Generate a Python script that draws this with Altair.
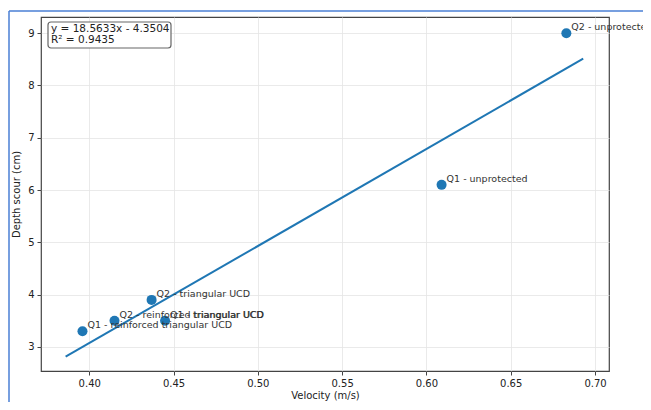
import altair as alt
import pandas as pd

labels = [
    "Q1 - reinforced triangular UCD",
    "Q2 - reinforced triangular UCD",
    "Q2 - triangular UCD",
    "Q1 - triangular UCD",
    "Q1 - unprotected",
    "Q2 - unprotected",
]
velocity = [0.396, 0.415, 0.437, 0.445, 0.609, 0.683]
depth = [3.3, 3.5, 3.9, 3.5, 6.1, 9.0]
x_ticks = [0.40, 0.45, 0.50, 0.55, 0.60, 0.65, 0.70]
y_ticks = [3, 4, 5, 6, 7, 8, 9]
fit_extent = [0.386, 0.693]
equation_text = "y = 18.5633x - 4.3504\nR² = 0.9435"

df = pd.DataFrame({"label": labels, "x": velocity, "y": depth})
one = pd.DataFrame({"k": [0]})

FONT = "DejaVu Sans"
BLUE = "#1f77b4"

xs = alt.Scale(domain=[0.3714, 0.7083], nice=False, zero=False)
ys = alt.Scale(domain=[2.54, 9.31], nice=False, zero=False)

xenc = alt.X("x:Q", scale=xs, title="Velocity (m/s)",
             axis=alt.Axis(values=x_ticks, format=".2f"))
yenc = alt.Y("y:Q", scale=ys, title="Depth scour (cm)",
             axis=alt.Axis(values=y_ticks, format="d"))

base = alt.Chart(df)
ann = alt.Chart(one)

points = base.mark_circle(size=100, color=BLUE, opacity=1).encode(x=xenc, y=yenc)

fit = base.transform_regression("x", "y", extent=fit_extent).mark_line(
    color=BLUE, strokeWidth=2
).encode(x=xenc, y=yenc)

texts = base.mark_text(
    align="left", baseline="bottom", dx=5, dy=-1, font=FONT, fontSize=9.5, color="#333333"
).encode(x=xenc, y=yenc, text="label:N")

eq_box = ann.mark_rect(
    fill="white", stroke="#666666", strokeWidth=1.2, cornerRadius=3
).encode(x=alt.value(7), x2=alt.value(130), y=alt.value(5), y2=alt.value(31))

eq_text = ann.mark_text(
    align="left", baseline="top", font=FONT, fontSize=10.5, lineHeight=11,
    lineBreak="\n", color="#222222"
).encode(x=alt.value(10), y=alt.value(7), text=alt.value(equation_text))

frame_top = ann.mark_rule(color="#4a7fd4", strokeWidth=1.5).encode(
    x=alt.value(-32), x2=alt.value(610), y=alt.value(-6)
)
frame_left = ann.mark_rule(color="#4a7fd4", strokeWidth=1.5).encode(
    x=alt.value(-32), y=alt.value(-6), y2=alt.value(390)
)

chart = alt.layer(fit, points, texts, eq_box, eq_text, frame_top, frame_left).properties(
    width=568,
    height=354,
    autosize=alt.AutoSizeParams(type="none"),
    padding={"left": 33, "top": 9, "right": 34, "bottom": 31},
    background="white",
).configure_view(
    stroke="#444444", strokeWidth=1.2
).configure_axis(
    grid=True, gridColor="#e4e4e4", gridWidth=0.8,
    domain=False, tickColor="#444444", tickSize=4, tickWidth=1,
    labelFont=FONT, labelFontSize=10, labelColor="#222222", labelPadding=3,
    titleFont=FONT, titleFontSize=10, titleFontWeight="normal", titleColor="#222222",
).configure_axisX(titlePadding=2).configure_axisY(titlePadding=6)

chart.save("out.html", embed_options={"renderer": "svg", "actions": False})
